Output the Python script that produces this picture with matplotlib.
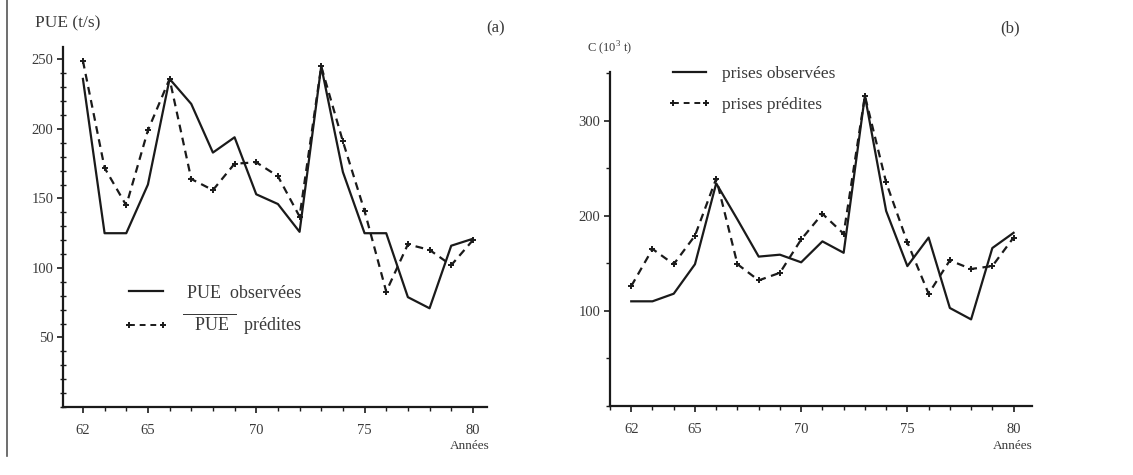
import matplotlib
matplotlib.use("Agg")
import matplotlib.pyplot as plt
from matplotlib.lines import Line2D
from matplotlib.ticker import MultipleLocator
import numpy as np

plt.rcParams["font.family"] = ["Liberation Serif", "DejaVu Serif"]
plt.rcParams["mathtext.fontset"] = "custom"
plt.rcParams["mathtext.rm"] = "Liberation Serif"

years = np.arange(62, 81)

# (a) PUE (t/s)
pue_obs = [236, 125, 125, 160, 236, 218, 183, 194, 153, 146, 126, 245, 169,
           125, 125, 79, 71, 116, 121]
pue_pred = [249, 172, 145, 199, 236, 164, 156, 175, 176, 166, 137, 245, 191,
            141, 83, 117, 113, 102, 120]

# (b) C (10^3 t)
c_obs = [110, 110, 118, 149, 234, 196, 157, 159, 151, 173, 161, 326, 205,
         147, 177, 103, 91, 166, 182]
c_pred = [126, 165, 149, 179, 239, 149, 132, 140, 175, 202, 181, 326, 235,
          172, 118, 153, 144, 147, 177]

x_ticks = [62, 65, 70, 75, 80]

fig = plt.figure(figsize=(11.33, 4.75), dpi=100)
ax_a = fig.add_axes([0.0556, 0.1432, 0.3742, 0.758])
ax_b = fig.add_axes([0.5384, 0.1453, 0.3725, 0.7031])

ink = "#1a1a1a"
txt = "#3a3a3a"


def style_axis(ax, xlim, ylim, ymajor, yminor, ylabels):
    ax.set_xlim(*xlim)
    ax.set_ylim(*ylim)
    for s in ["top", "right"]:
        ax.spines[s].set_visible(False)
    for s in ["left", "bottom"]:
        ax.spines[s].set_color(ink)
        ax.spines[s].set_linewidth(1.6)
    ax.set_xticks(x_ticks)
    ax.set_xticklabels([str(t) for t in x_ticks])
    ax.xaxis.set_minor_locator(MultipleLocator(1))
    ax.set_yticks(ymajor)
    ax.set_yticklabels(ylabels)
    ax.yaxis.set_minor_locator(MultipleLocator(yminor))
    ax.tick_params(axis="both", which="major", length=4, width=1.2, color=ink,
                   labelsize=10.5, labelcolor=txt, pad=8)
    ax.tick_params(axis="y", which="major", pad=3)
    ax.tick_params(axis="both", which="minor", length=3, width=1.0, color=ink)


style_axis(ax_a, (61.08, 80.65), (0, 259), [50, 100, 150, 200, 250], 10,
           ["50", "100", "150", "200", "250"])
ax_a.tick_params(axis="y", which="minor", direction="inout", length=4)

style_axis(ax_b, (61.0, 80.87), (0, 351), [100, 200, 300], 50,
           ["100", "200", "300"])

line_kw = dict(color=ink, linewidth=1.6)
dash_kw = dict(color=ink, linewidth=1.6, linestyle=(0, (3.5, 2.5)),
               marker="+", markersize=5, markeredgewidth=1.4)

ax_a.plot(years, pue_obs, **line_kw)
ax_a.plot(years, pue_pred, **dash_kw)
ax_b.plot(years, c_obs, **line_kw)
ax_b.plot(years, c_pred, **dash_kw)

h_obs = Line2D([], [], **line_kw)
h_pred = Line2D([], [], color=ink, linewidth=1.4, linestyle=(0, (3, 2.5)),
                marker="+", markersize=5, markeredgewidth=1.4)

leg_a = ax_a.legend([h_obs, h_pred],
                    [r"  PUE  observées", r" $\overline{\mathrm{\ \ PUE\ }}$  prédites"],
                    loc="upper left", bbox_to_anchor=(0.105, 0.385), frameon=False,
                    fontsize=13, handlelength=2.5, labelspacing=0.55,
                    handletextpad=0.5, labelcolor=txt, numpoints=2)

leg_b = ax_b.legend([h_obs, h_pred], ["prises observées", "prises prédites"],
                    loc="upper left", bbox_to_anchor=(0.1, 1.065), frameon=False,
                    fontsize=12.5, handlelength=2.5, labelspacing=0.85,
                    handletextpad=0.6, labelcolor=txt, numpoints=2)

fig.text(0.031, 0.95, "PUE (t/s)", fontsize=12.5, color=txt, va="center")
fig.text(0.446, 0.94, "(a)", fontsize=12, color=txt, va="center", ha="right")
fig.text(0.518, 0.899, "C (10$^3$ t)", fontsize=9, color=txt, va="center")
fig.text(0.9, 0.94, "(b)", fontsize=12, color=txt, va="center", ha="right")
fig.text(0.432, 0.061, "Années", fontsize=9.5, color=txt, va="center", ha="right")
fig.text(0.911, 0.061, "Années", fontsize=9.5, color=txt, va="center", ha="right")

# scan border on the left
fig.add_artist(Line2D([0.0062, 0.0062], [0.04, 1.0], color="#555555", linewidth=1.2))

fig.savefig("out.png", dpi=100)
